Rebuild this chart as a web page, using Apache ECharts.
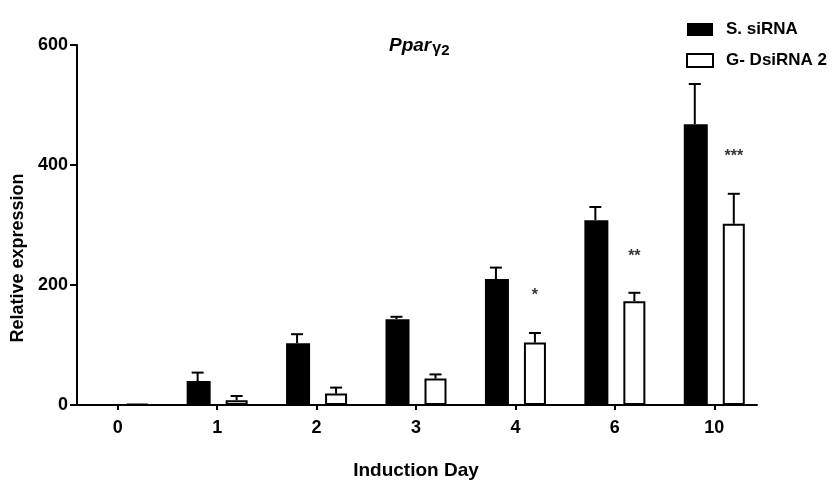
<!DOCTYPE html>
<html>
<head>
<meta charset="utf-8">
<script src="https://cdn.jsdelivr.net/npm/echarts@6/dist/echarts.min.js"></script>
<style>html,body{margin:0;padding:0;background:#fff}#c{width:835px;height:481px}</style>
</head>
<body>
<div id="c"></div>
<script>
const categories = ['0', '1', '2', '3', '4', '6', '10'];
const sName = 'S. siRNA';
const gName = 'G- DsiRNA 2';
const sMean = [1.5, 40, 103, 143, 210, 308, 468];
const sErr  = [0, 14, 15, 4, 19, 22, 67];
const gMean = [1.5, 8, 19, 44, 104, 173, 302];
const gErr  = [0, 7, 10, 7, 16, 14, 50];
const starText = ['', '', '', '', '*', '**', '***'];
const starValue = [null, null, null, null, 182, 247, 414];
const yTicks = [0, 200, 400, 600];

const FONT = '"Liberation Sans", Arial, Helvetica, sans-serif';
const BAR_W = 24;
const BAR_GAP = 15;
const OFF = (BAR_W + BAR_GAP) / 2;

function errRender(offset) {
  return function (params, api) {
    const i = api.value(0);
    const m = api.value(1);
    const e = api.value(2);
    if (!e) return null;
    const p0 = api.coord([i, m]);
    const p1 = api.coord([i, m + e]);
    const x = p0[0] + offset;
    const st = { stroke: '#000', lineWidth: 2 };
    return {
      type: 'group',
      children: [
        { type: 'line', shape: { x1: x, y1: p0[1], x2: x, y2: p1[1] }, style: st },
        { type: 'line', shape: { x1: x - 6, y1: p1[1], x2: x + 6, y2: p1[1] }, style: st }
      ]
    };
  };
}

const chart = echarts.init(document.getElementById('c'), null, { renderer: 'canvas' });
chart.setOption({
  backgroundColor: '#fff',
  animation: false,
  textStyle: { fontFamily: FONT },
  title: {
    left: 384, top: 29,
    text: '{a|Ppar}{b|γ}{c|2}',
    textStyle: {
      rich: {
        a: { fontFamily: FONT, fontSize: 19, fontWeight: 'bold', fontStyle: 'italic', color: '#000' },
        b: { fontFamily: FONT, fontSize: 16, color: '#000', padding: [5, 0, 0, 1] },
        c: { fontFamily: FONT, fontSize: 15, fontWeight: 'bold', color: '#000', padding: [9, 0, 0, 0] }
      }
    }
  },
  legend: {
    orient: 'vertical', left: 681, top: 16,
    itemWidth: 26, itemHeight: 13, itemGap: 14, icon: 'rect',
    data: [sName, gName],
    textStyle: { fontFamily: FONT, fontSize: 17, fontWeight: 'bold', color: '#000', padding: [0, 0, 0, 8] }
  },
  grid: [
    { left: 68, right: 71, top: 45, bottom: 76, containLabel: false, outerBoundsMode: 'none' },
    { left: 77, right: 78, top: 45, bottom: 76, containLabel: false, outerBoundsMode: 'none' }
  ],
  xAxis: [
    {
      type: 'category', gridIndex: 0, data: categories,
      axisLine: { show: false },
      axisTick: { show: true, alignWithLabel: true, length: 5, lineStyle: { color: '#000', width: 2 } },
      axisLabel: { fontFamily: FONT, fontSize: 18, fontWeight: 'bold', color: '#000', margin: 14 },
      name: 'Induction Day', nameLocation: 'middle', nameGap: 56,
      nameTextStyle: { fontFamily: FONT, fontSize: 19, fontWeight: 'bold', color: '#000' }
    },
    {
      type: 'value', gridIndex: 1, min: 0, max: 1,
      axisLine: { show: true, lineStyle: { color: '#000', width: 2 } },
      axisTick: { show: false }, axisLabel: { show: false }, splitLine: { show: false }
    }
  ],
  yAxis: [
    { type: 'value', gridIndex: 0, min: 0, max: 600, show: false },
    {
      type: 'value', gridIndex: 1, min: 0, max: 600, interval: 200,
      axisLine: { show: true, lineStyle: { color: '#000', width: 2 } },
      axisTick: { show: true, length: 7, lineStyle: { color: '#000', width: 2 } },
      axisLabel: { fontFamily: FONT, fontSize: 18, fontWeight: 'bold', color: '#000', margin: 9,
        formatter: v => yTicks.includes(v) ? String(v) : '' },
      splitLine: { show: false }
    }
  ],
  graphic: [{
    type: 'text', x: 18, y: 258, rotation: Math.PI / 2,
    style: { text: 'Relative expression', font: 'bold 18px ' + FONT, fill: '#000', align: 'center', verticalAlign: 'middle' }
  }],
  series: [
    {
      name: sName, type: 'bar', xAxisIndex: 0, yAxisIndex: 0,
      data: sMean, barWidth: BAR_W, barGap: (BAR_GAP / BAR_W * 100) + '%',
      itemStyle: { color: '#000', borderColor: '#000', borderWidth: 0 }
    },
    {
      name: gName, type: 'bar', xAxisIndex: 0, yAxisIndex: 0,
      data: gMean, barWidth: BAR_W - 2,
      itemStyle: { color: '#fff', borderColor: '#000', borderWidth: 2 }
    },
    {
      type: 'custom', xAxisIndex: 0, yAxisIndex: 0, z: 1,
      renderItem: errRender(-OFF),
      encode: { x: 0, y: 1 },
      data: sMean.map((m, i) => [i, m, sErr[i]])
    },
    {
      type: 'custom', xAxisIndex: 0, yAxisIndex: 0, z: 1,
      renderItem: errRender(OFF),
      encode: { x: 0, y: 1 },
      data: gMean.map((m, i) => [i, m, gErr[i]])
    },
    {
      type: 'scatter', xAxisIndex: 0, yAxisIndex: 0, symbolSize: 0,
      data: starValue.map((v, i) => v == null ? null : [i, v, starText[i]]).filter(d => d),
      label: {
        show: true, position: 'inside', offset: [OFF, 0],
        formatter: p => p.value[2],
        fontFamily: FONT, fontSize: 16, fontWeight: 'bold', color: '#000'
      }
    }
  ]
});
</script>
</body>
</html>
